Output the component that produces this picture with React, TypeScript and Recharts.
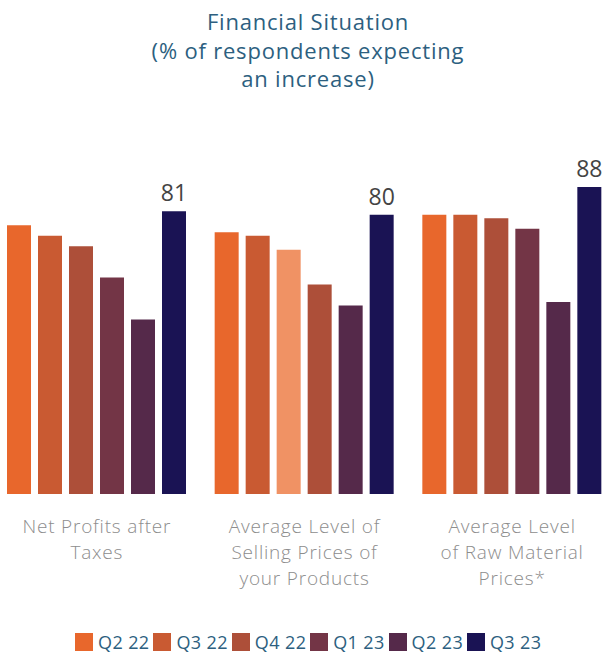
import { BarChart, Bar, XAxis, YAxis, Cell, LabelList } from 'recharts';

const categories = [
  'Net Profits after\nTaxes',
  'Average Level of\nSelling Prices of\nyour Products',
  'Average Level\nof Raw Material\nPrices*',
];

const seriesNames = ['Q2 22', 'Q3 22', 'Q4 22', 'Q1 23', 'Q2 23', 'Q3 23'];

const q222 = [77, 75, 80];
const q322 = [74, 74, 80];
const q422 = [71, 70, 79];
const q123 = [62, 60, 76];
const q223 = [50, 54, 55];
const q323 = [81, 80, 88];

const seriesValues = [q222, q322, q422, q123, q223, q323];

const legendColors = ['#e8672c', '#c95a32', '#ad4f39', '#733546', '#55294a', '#1a1354'];

// the source colours a few bars differently from their legend entry
const cellColors = [
  ['#e8672c', '#e8672c', '#e8672c'],
  ['#c95a32', '#c95a32', '#c95a32'],
  ['#ad4f39', '#f09264', '#ad4f39'],
  ['#733546', '#ad4f39', '#733546'],
  ['#55294a', '#55294a', '#55294a'],
  ['#1a1354', '#1a1354', '#1a1354'],
];

const data = categories.map((name, i) => {
  const row: Record<string, string | number> = { name };
  seriesNames.forEach((s, j) => {
    row[s] = seriesValues[j][i];
  });
  return row;
});

const FONT = '"Open Sans", Lato, sans-serif';
const TITLE_COLOR = '#2d5f80';

const CategoryTick = ({ x, y, payload }: { x?: number; y?: number; payload?: { value: string } }) => {
  const lines = String(payload?.value ?? '').split('\n');
  return (
    <text
      x={x}
      y={y}
      textAnchor="middle"
      fill="#8d8d8d"
      fontSize={19}
      fontWeight={300}
      fontFamily={FONT}
      letterSpacing={0.8}
    >
      {lines.map((line, i) => (
        <tspan key={i} x={x} y={(y ?? 0) + 39 + i * 26}>
          {line}
        </tspan>
      ))}
    </text>
  );
};

const App = () => {
  return (
    <div
      style={{
        position: 'absolute',
        left: 0,
        top: 0,
        width: 604,
        height: 653,
        overflow: 'hidden',
        background: '#fff',
        fontFamily: FONT,
      }}
    >
      <div
        style={{
          position: 'absolute',
          left: 0,
          top: 7,
          width: 616,
          textAlign: 'center',
          color: TITLE_COLOR,
          fontSize: 22,
          lineHeight: '28.5px',
          letterSpacing: 0.8,
        }}
      >
        Financial Situation
        <br />
        (% of respondents expecting
        <br />
        an increase)
      </div>

      <div style={{ position: 'absolute', left: -7, top: 0 }}>
        <BarChart
          width={623}
          height={600}
          data={data}
          margin={{ top: 145, right: 0, bottom: 0, left: 0 }}
          barGap={7}
          barSize={24}
        >
          <XAxis
            dataKey="name"
            axisLine={false}
            tickLine={false}
            tickSize={0}
            tickMargin={0}
            height={106}
            interval={0}
            tick={<CategoryTick />}
          />
          <YAxis hide domain={[0, 100]} />
          {seriesNames.map((s, j) => (
            <Bar key={s} dataKey={s} isAnimationActive={false}>
              {data.map((_, i) => (
                <Cell key={`cell-${i}`} fill={cellColors[j][i]} />
              ))}
              {j === seriesNames.length - 1 && (
                <LabelList
                  dataKey={s}
                  position="top"
                  offset={10}
                  fill="#444"
                  fontSize={23}
                  fontFamily={FONT}
                />
              )}
            </Bar>
          ))}
        </BarChart>
      </div>

      <div
        style={{
          position: 'absolute',
          left: 75,
          top: 633,
          display: 'flex',
          alignItems: 'center',
          color: TITLE_COLOR,
          fontSize: 18,
          lineHeight: '18px',
          letterSpacing: 0.4,
        }}
      >
        {seriesNames.map((s, j) => (
          <div key={s} style={{ display: 'flex', alignItems: 'center', width: j < 5 ? 78.4 : 'auto' }}>
            <div style={{ width: 18, height: 18, background: legendColors[j], marginRight: 5 }} />
            <span>{s}</span>
          </div>
        ))}
      </div>
    </div>
  );
};

export default App;
